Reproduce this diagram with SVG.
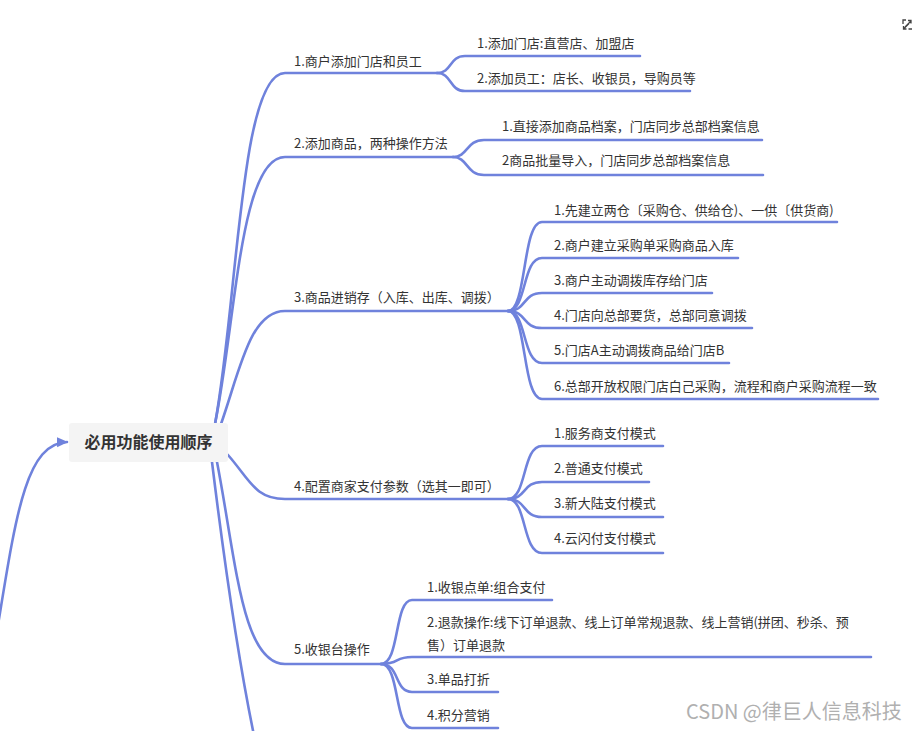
<svg xmlns="http://www.w3.org/2000/svg" width="913" height="731" viewBox="0 0 913 731">
<style>
.ln{fill:none;stroke:#6f82dc;stroke-width:2.6;stroke-linecap:round}
.t{font-family:"Noto Sans CJK SC","Microsoft YaHei",sans-serif;font-size:13px;fill:#333}
.root{font-family:"Noto Sans CJK SC","Microsoft YaHei",sans-serif;font-size:16px;font-weight:bold;fill:#333}
.wm{font-family:"Noto Sans CJK SC",sans-serif;font-size:20px;fill:#b0b0b0}
.ic{fill:none;stroke:#444;stroke-width:1.3}
</style>
<defs>
<marker id="ah" markerWidth="12" markerHeight="12" refX="10" refY="5" orient="auto" markerUnits="userSpaceOnUse" viewBox="0 0 12 10">
<path d="M0,0 L11,5 L0,10 Z" fill="#6f82dc"/>
</marker>
</defs>
<rect width="913" height="731" fill="#fff"/>
<g id="connectors">
<path class="ln" d="M-2,625 C16,515 26,443 67,442" marker-end="url(#ah)"/>
<path class="ln" d="M215,424 C238,300 240,73 285,73 L437,73"/>
<path class="ln" d="M437,73 C452,73 449,56 465,56 L640,56"/>
<path class="ln" d="M437,73 C452,73 449,91 465,91 L690,91"/>
<path class="ln" d="M215,424 C236,320 240,157 285,157 L453,157"/>
<path class="ln" d="M453,157 C468,157 466,140 484,140 L762,140"/>
<path class="ln" d="M453,157 C468,157 466,175 484,175 L763,175"/>
<path class="ln" d="M221,424 C240,370 250,311 285,311 L508,311"/>
<path class="ln" d="M508,311 C527,311 522,222 542,222 L837,222"/>
<path class="ln" d="M508,311 C527,311 522,258 542,258 L738,258"/>
<path class="ln" d="M508,311 C527,311 522,293 542,293 L712,293"/>
<path class="ln" d="M508,311 C527,311 522,328 542,328 L752,328"/>
<path class="ln" d="M508,311 C527,311 522,363 542,363 L729,363"/>
<path class="ln" d="M508,311 C527,311 522,399 542,399 L878,399"/>
<path class="ln" d="M228,455 C250,480 255,499 285,499 L508,499"/>
<path class="ln" d="M508,499 C527,499 522,446 542,446 L663,446"/>
<path class="ln" d="M508,499 C527,499 522,482 542,482 L649,482"/>
<path class="ln" d="M508,499 C527,499 522,517 542,517 L663,517"/>
<path class="ln" d="M508,499 C527,499 522,553 542,553 L663,553"/>
<path class="ln" d="M217,462 C236,560 242,664 285,664 L381,664"/>
<path class="ln" d="M381,664 C400,664 394,600 412,600 L552,600"/>
<path class="ln" d="M381,664 C400,664 394,657 412,657 L871,657"/>
<path class="ln" d="M381,664 C400,664 394,692 412,692 L498,692"/>
<path class="ln" d="M381,664 C400,664 394,728 412,728 L498,728"/>
<path class="ln" d="M212,462 C224,560 240,670 256,745"/>
</g>
<g id="root">
<rect x="69" y="423" width="159" height="39" rx="3" fill="#f4f4f4"/>
<text class="root" x="148.5" y="448" text-anchor="middle">必用功能使用顺序</text>
</g>
<g id="b1"><text class="t" x="294" y="65.5">1.商户添加门店和员工</text></g>
<g id="b1c1"><text class="t" x="477" y="47.5">1.添加门店:直营店、加盟店</text></g>
<g id="b1c2"><text class="t" x="477" y="82.5">2.添加员工：店长、收银员，导购员等</text></g>
<g id="b2"><text class="t" x="294" y="147.5">2.添加商品，两种操作方法</text></g>
<g id="b2c1"><text class="t" x="502" y="131">1.直接添加商品档案，门店同步总部档案信息</text></g>
<g id="b2c2"><text class="t" x="502" y="165">2商品批量导入，门店同步总部档案信息</text></g>
<g id="b3"><text class="t" x="294" y="301.5">3.商品进销存（入库、出库、调拨）</text></g>
<g id="b3c1"><text class="t" x="554" y="214.5">1.先建立两仓〔采购仓、供给仓)、一供〔供货商)</text></g>
<g id="b3c2"><text class="t" x="554" y="249.5">2.商户建立采购单采购商品入库</text></g>
<g id="b3c3"><text class="t" x="554" y="284.5">3.商户主动调拨库存给门店</text></g>
<g id="b3c4"><text class="t" x="554" y="319.5">4.门店向总部要货，总部同意调拨</text></g>
<g id="b3c5"><text class="t" x="554" y="354.5">5.门店A主动调拨商品给门店B</text></g>
<g id="b3c6"><text class="t" x="554" y="390.5">6.总部开放权限门店白己采购，流程和商户采购流程一致</text></g>
<g id="b4"><text class="t" x="294" y="490.5">4.配置商家支付参数（选其一即可）</text></g>
<g id="b4c1"><text class="t" x="554" y="437.5">1.服务商支付模式</text></g>
<g id="b4c2"><text class="t" x="554" y="472.5">2.普通支付模式</text></g>
<g id="b4c3"><text class="t" x="554" y="507.5">3.新大陆支付模式</text></g>
<g id="b4c4"><text class="t" x="554" y="543">4.云闪付支付模式</text></g>
<g id="b5"><text class="t" x="294" y="653.5">5.收银台操作</text></g>
<g id="b5c1"><text class="t" x="427" y="591.5">1.收银点单:组合支付</text></g>
<g id="b5c2"><text class="t" x="427" y="626.5">2.退款操作:线下订单退款、线上订单常规退款、线上营销(拼团、秒杀、预</text><text class="t" x="427" y="649.5">售）订单退款</text></g>
<g id="b5c3"><text class="t" x="427" y="683.5">3.单品打折</text></g>
<g id="b5c4"><text class="t" x="427" y="719.5">4.积分营销</text></g>
<g id="expand-icon">
<path class="ic" d="M903,24 V20 H906 M905,27 L911,21 M908,20.5 H911 V23.5 M903.5,26 V29 H906.5 M903.5,29 L909,23.5 M908.5,29 H912"/>
</g>
<text class="wm" x="686" y="719">CSDN @律巨人信息科技</text>
</svg>
